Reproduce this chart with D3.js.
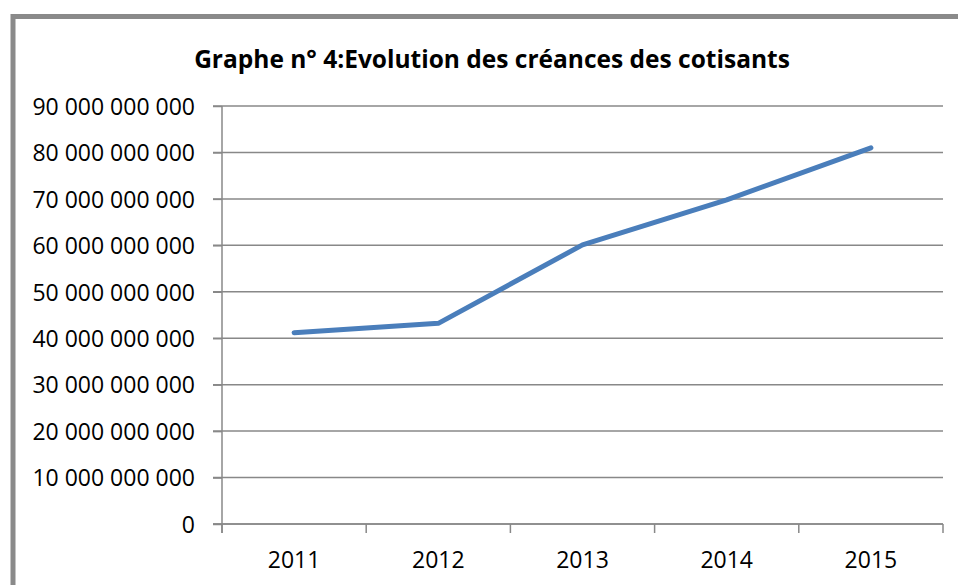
<!DOCTYPE html>
<html>
<head>
<meta charset="utf-8">
<script src="https://cdn.jsdelivr.net/npm/d3@7"></script>
<style>
  body { margin: 0; background: #fff; }
  svg { display: block; }
  text { font-family: "Open Sans", sans-serif; fill: #000; }
</style>
</head>
<body>
<div id="chart"></div>
<script>
// values
var years = ['2011', '2012', '2013', '2014', '2015'];
var creances = [41200000000, 43200000000, 60100000000, 69800000000, 81000000000];
var yTicks = [0, 10e9, 20e9, 30e9, 40e9, 50e9, 60e9, 70e9, 80e9, 90e9];
var title = 'Graphe n° 4:Evolution des créances des cotisants';

var width = 958,
    height = 585,
    margin = { top: 106, right: 15, bottom: 61, left: 222 };

var svg = d3.select('#chart').append('svg')
  .attr('width', width)
  .attr('height', height);

// chart frame (cut by the window on the right and bottom)
svg.append('rect')
  .attr('x', 13).attr('y', 16.5)
  .attr('width', 960).attr('height', 600)
  .attr('fill', 'none')
  .attr('stroke', '#8a8a8a')
  .attr('stroke-width', 5);

var x = d3.scaleBand()
  .domain(years)
  .range([margin.left, width - margin.right]);

var y = d3.scaleLinear()
  .domain([0, 90e9])
  .range([height - margin.bottom, margin.top]);

// spaces as thousands separator
function spaced( v ) {
  return v.toString().replace( /(\d)(?=(\d{3})+(?!\d))/g, '$1 ' );
}

// horizontal gridlines
svg.append('g')
  .selectAll('line')
  .data(yTicks)
  .enter().append('line')
    .attr('x1', margin.left - 9)
    .attr('x2', width - margin.right)
    .attr('y1', function(d) { return y(d); })
    .attr('y2', function(d) { return y(d); })
    .attr('stroke', '#888')
    .attr('stroke-width', 1.5);

// y axis
var yAxis = svg.append('g')
  .attr('transform', 'translate(' + margin.left + ',0)')
  .call(d3.axisLeft(y).tickValues(yTicks).tickSize(9).tickPadding(18).tickFormat(spaced));
yAxis.selectAll('text').style('font-size', '23px').attr('dy', '0.36em');

// x axis
var xAxis = svg.append('g')
  .attr('transform', 'translate(0,' + y(0) + ')')
  .call(d3.axisBottom(x).tickSize(0).tickPadding(28));
xAxis.selectAll('text').style('font-size', '23px');

// category separators below the axis
svg.append('g')
  .selectAll('line')
  .data(years.concat(['end']))
  .enter().append('line')
    .attr('x1', function(d, i) { return i < years.length ? x(d) : x.range()[1]; })
    .attr('x2', function(d, i) { return i < years.length ? x(d) : x.range()[1]; })
    .attr('y1', y(0))
    .attr('y2', y(0) + 9)
    .attr('stroke', '#888')
    .attr('stroke-width', 1.5);

svg.selectAll('.domain, .tick line').attr('stroke', '#888').attr('stroke-width', 1.5);
svg.selectAll('.domain').attr('d', null);
svg.append('line')
  .attr('x1', margin.left).attr('x2', margin.left)
  .attr('y1', y(90e9)).attr('y2', y(0) + 9)
  .attr('stroke', '#888').attr('stroke-width', 1.5);
svg.append('line')
  .attr('x1', margin.left - 9).attr('x2', width - margin.right)
  .attr('y1', y(0)).attr('y2', y(0))
  .attr('stroke', '#888').attr('stroke-width', 1.5);

// the series line
var line = d3.line()
  .x(function(d, i) { return x(years[i]) + x.bandwidth() / 2; })
  .y(function(d) { return y(d); });

svg.append('path')
  .datum(creances)
  .attr('d', line)
  .attr('fill', 'none')
  .attr('stroke', '#4a7ebb')
  .attr('stroke-width', 5)
  .attr('stroke-linecap', 'round')
  .attr('stroke-linejoin', 'round');

// title
svg.append('text')
  .attr('x', 492)
  .attr('y', 68)
  .attr('text-anchor', 'middle')
  .style('font-size', '24.5px')
  .style('font-weight', 'bold')
  .text(title);
</script>
</body>
</html>
